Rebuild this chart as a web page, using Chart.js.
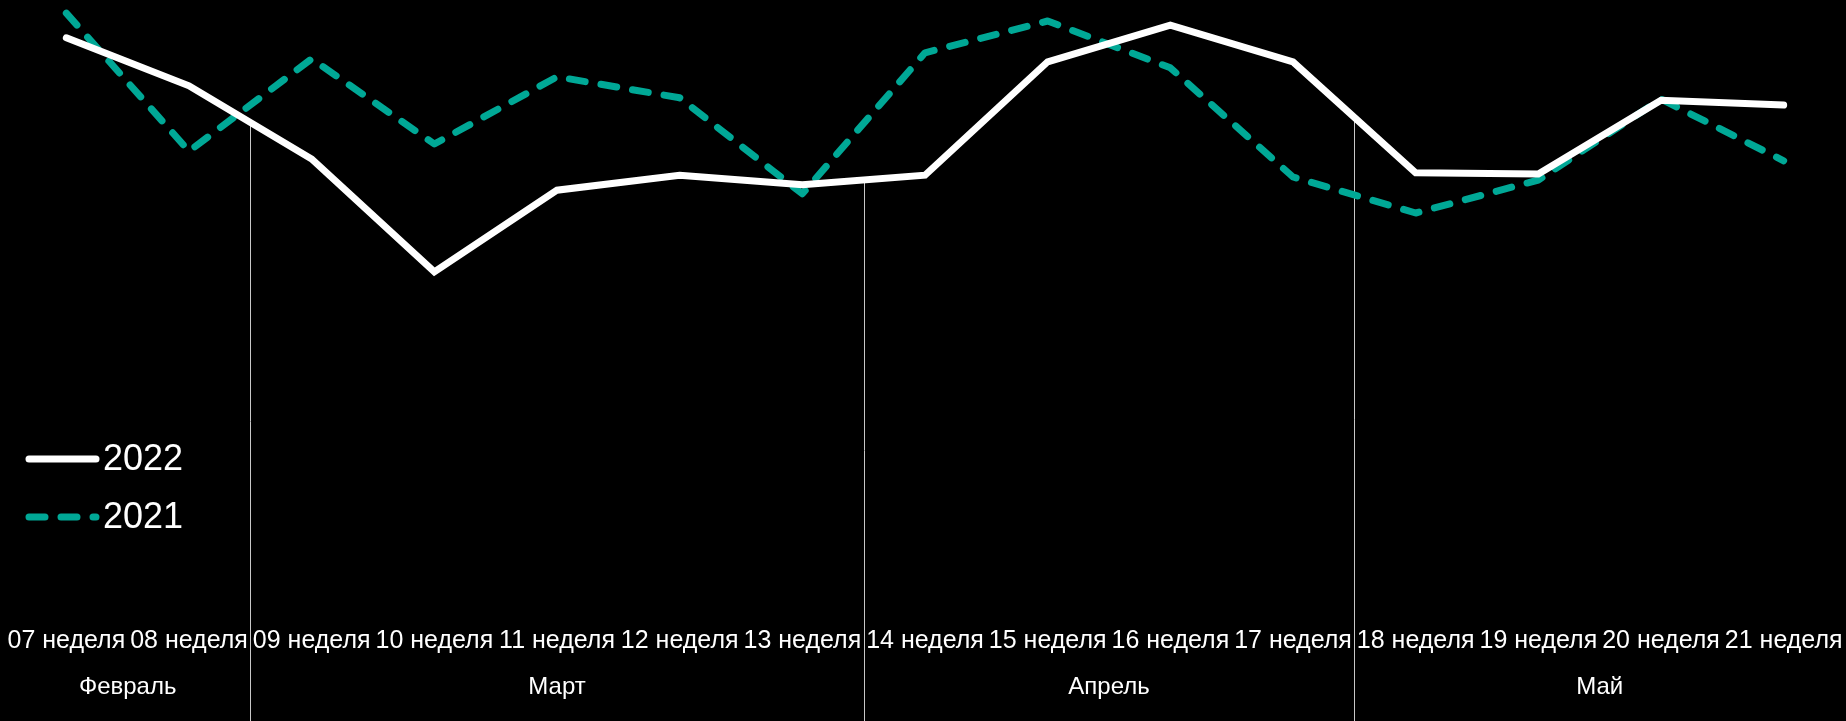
<!DOCTYPE html>
<html>
<head>
<meta charset="utf-8">
<script src="https://cdn.jsdelivr.net/npm/chart.js@4/dist/chart.umd.min.js"></script>
<style>
  html, body { margin: 0; padding: 0; background: #000; }
  canvas { display: block; }
</style>
</head>
<body>
<canvas id="chart" width="1846" height="721"></canvas>
<script>
// недели по оси X
const weeks = ['07 неделя', '08 неделя', '09 неделя', '10 неделя', '11 неделя', '12 неделя', '13 неделя',
    '14 неделя', '15 неделя', '16 неделя', '17 неделя', '18 неделя', '19 неделя', '20 неделя', '21 неделя'];

// месяцы и сколько недель в каждом
const months = ['Февраль', 'Март', 'Апрель', 'Май'];
const monthWeeks = [2, 5, 4, 4];

// значения (относительные)
const values2022 = [93.7, 85.7, 73.5, 54.7, 68.3, 70.8, 69.2, 70.8, 89.7, 95.8, 89.7, 71.2, 71.0, 83.3, 82.5];
const values2021 = [97.8, 74.8, 90.2, 76.0, 87.2, 83.7, 67.7, 91.2, 96.5, 88.7, 70.5, 64.5, 70.0, 83.5, 73.2];

const FONT = '"Liberation Sans", Arial, sans-serif';
const TEAL = '#00a896';

// разделители месяцев + подписи месяцев + легенда
const extras = {
    id: 'extras',
    beforeDatasetsDraw(chart) {
        const ctx = chart.ctx;
        const x = chart.scales.x;
        const pts = chart.getDatasetMeta(0).data;
        let idx = 0;
        ctx.save();
        ctx.strokeStyle = '#c8c8c8';
        ctx.lineWidth = 1;
        for (let m = 0; m < monthWeeks.length - 1; m++) {
            idx += monthWeeks[m];
            const px = Math.round((x.getPixelForValue(idx - 1) + x.getPixelForValue(idx)) / 2) + 0.5;
            const top = (pts[idx - 1].y + pts[idx].y) / 2;
            ctx.beginPath();
            ctx.moveTo(px, top);
            ctx.lineTo(px, chart.height);
            ctx.stroke();
        }
        ctx.restore();
    },
    afterDraw(chart) {
        const ctx = chart.ctx;
        const x = chart.scales.x;
        ctx.save();
        // месяцы
        ctx.fillStyle = '#fff';
        ctx.font = '24px ' + FONT;
        ctx.textAlign = 'center';
        ctx.textBaseline = 'middle';
        let start = 0;
        months.forEach((name, m) => {
            const end = start + monthWeeks[m] - 1;
            const cx = (x.getPixelForValue(start) + x.getPixelForValue(end)) / 2;
            ctx.fillText(name, cx, 687);
            start = end + 1;
        });

        // легенда
        const items = [
            { text: '2022', color: '#fff', dash: [], y: 459 },
            { text: '2021', color: TEAL, dash: [16, 16], y: 517 },
        ];
        ctx.lineWidth = 7;
        ctx.lineCap = 'round';
        ctx.textAlign = 'left';
        ctx.font = '36px ' + FONT;
        items.forEach(it => {
            ctx.strokeStyle = it.color;
            ctx.setLineDash(it.dash);
            ctx.beginPath();
            ctx.moveTo(29, it.y);
            ctx.lineTo(96, it.y);
            ctx.stroke();
            ctx.setLineDash([]);
            ctx.fillStyle = '#fff';
            ctx.fillText(it.text, 103, it.y + 1);
        });
        ctx.restore();
    }
};

new Chart(document.getElementById('chart'), {
    type: 'line',
    data: {
        labels: weeks,
        datasets: [
            {
                label: '2022',
                data: values2022,
                borderColor: '#ffffff',
                borderWidth: 7,
                borderCapStyle: 'round',
                borderJoinStyle: 'miter',
                pointRadius: 0,
                tension: 0,
                clip: false,
            },
            {
                label: '2021',
                data: values2021,
                borderColor: TEAL,
                borderWidth: 7,
                borderDash: [16, 16],
                borderCapStyle: 'round',
                borderJoinStyle: 'round',
                pointRadius: 0,
                tension: 0,
                clip: false,
            },
        ],
    },
    options: {
        responsive: false,
        animation: false,
        devicePixelRatio: 1,
        layout: { padding: { left: 5, right: 1, top: 0, bottom: 66 } },
        plugins: {
            legend: { display: false },
            tooltip: { enabled: false },
        },
        scales: {
            x: {
                offset: true,
                grid: { display: false, drawTicks: false },
                border: { display: false },
                ticks: {
                    color: '#fff',
                    font: { family: FONT, size: 25 },
                    autoSkip: false,
                    maxRotation: 0,
                    padding: 26,
                },
                afterFit(scale) {
                    scale.height = 55;
                    scale.paddingLeft = 0;
                    scale.paddingRight = 0;
                },
            },
            y: {
                display: false,
                min: 0,
                max: 100,
            },
        },
    },
    plugins: [extras],
});
</script>
</body>
</html>
